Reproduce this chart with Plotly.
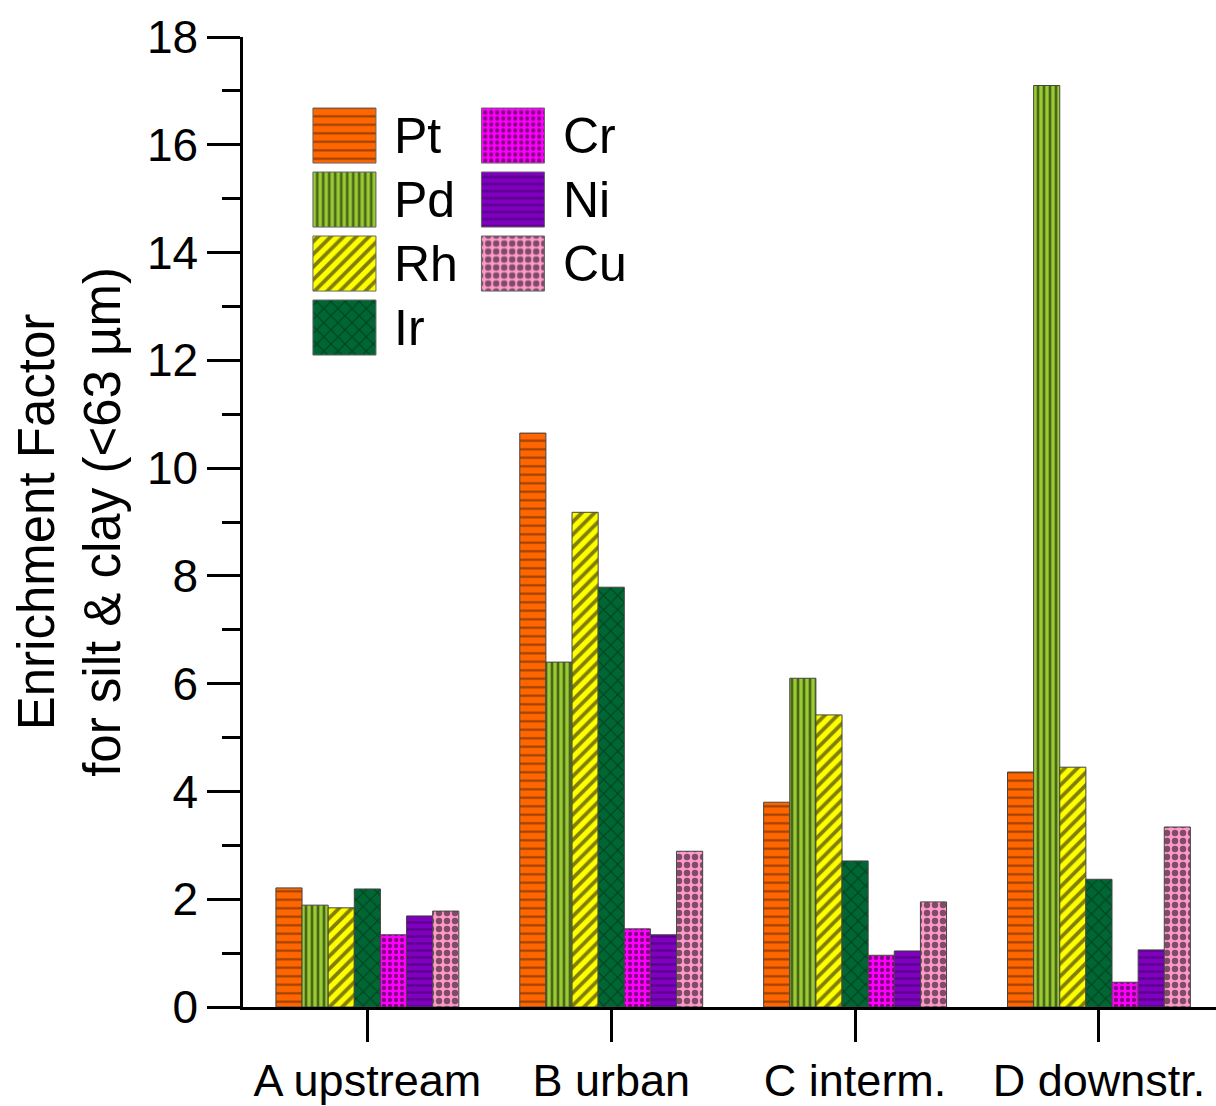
import plotly.graph_objects as go

# ---- data ----
sites = ["A upstream", "B urban", "C interm.", "D downstr."]
elements = ["Pt", "Pd", "Rh", "Ir", "Cr", "Ni", "Cu"]
pt = [2.21, 10.65, 3.80, 4.36]
pd_ = [1.89, 6.40, 6.10, 17.10]
rh = [1.84, 9.18, 5.42, 4.45]
ir = [2.19, 7.79, 2.71, 2.37]
cr = [1.34, 1.45, 0.96, 0.46]
ni = [1.69, 1.34, 1.04, 1.06]
cu = [1.78, 2.89, 1.95, 3.34]
values = [pt, pd_, rh, ir, cr, ni, cu]
y_ticks = list(range(0, 19, 2))

# ---- styles ----
colors = ["#FF6600", "#99CC33", "#FFFF00", "#006633", "#FF00FF", "#8000C0", "#FF99CC"]
shapes_ = ["-", "|", "/", "x", ".", "-", "."]
fgcols = ["#3a1a00", "#000000", "#000000", "#001a08", "#000000", "#3a0060", "#000000"]
psize = [8.5, 6, 9, 10, 6, 7, 8]
psolid = [0.25, 0.45, 0.42, 0.2, 0.4, 0.35, 0.5]
# legend grid: column, row for each element
leg_col = [0, 0, 0, 0, 1, 1, 1]
leg_row = [0, 1, 2, 3, 0, 1, 2]

FONT = "Liberation Sans, Arial, sans-serif"

fig = go.Figure()
for i, el in enumerate(elements):
    fig.add_trace(go.Bar(
        x=sites, y=values[i], name=el,
        marker=dict(color=colors[i],
                    line=dict(color="#444444", width=1),
                    pattern=dict(shape=shapes_[i], fgcolor=fgcols[i], bgcolor=colors[i],
                                 size=psize[i], solidity=psolid[i], fillmode="overlay")),
        showlegend=False,
    ))

# legend swatches as bars on a hidden auxiliary axis
sw_w = 0.374
sw_h = 0.86
for i, el in enumerate(elements):
    fig.add_trace(go.Bar(
        x=[leg_col[i]], y=[sw_h], base=[leg_row[i] - sw_h / 2],
        width=[sw_w], offset=[-sw_w / 2],
        xaxis="x2", yaxis="y2",
        marker=dict(color=colors[i],
                    line=dict(color="#666666", width=1),
                    pattern=dict(shape=shapes_[i], fgcolor=fgcols[i], bgcolor=colors[i],
                                 size=psize[i], solidity=psolid[i], fillmode="overlay")),
        showlegend=False, hoverinfo="skip",
    ))
    fig.add_annotation(x=leg_col[i] + 0.285, y=leg_row[i], xref="x2", yref="y2",
                       text=el, showarrow=False, xanchor="left", yanchor="middle",
                       font=dict(size=50, family=FONT, color="black"))

# y-axis title (two lines)
fig.add_annotation(x=-0.179, y=0.5, xref="paper", yref="paper",
                   text="Enrichment Factor<br>for silt &amp; clay (&lt;63 µm)",
                   textangle=-90, showarrow=False, xanchor="center", yanchor="middle",
                   font=dict(size=51, family=FONT, color="black"))

fig.update_layout(
    width=1216, height=1106,
    margin=dict(l=243, r=0, t=37, b=99),
    paper_bgcolor="white", plot_bgcolor="white",
    barmode="group", bargap=0.25, bargroupgap=0,
    showlegend=False,
    font=dict(family=FONT, color="black"),
    xaxis=dict(
        range=[-0.51, 3.48], showline=True, linecolor="black", linewidth=2.5,
        ticks="outside", ticklen=32, tickwidth=2.5, tickcolor="black",
        showgrid=False, zeroline=False, tickfont=dict(size=45, family=FONT),
    ),
    yaxis=dict(
        range=[0, 18], showline=True, linecolor="black", linewidth=2.5,
        tickvals=y_ticks, ticks="outside", ticklen=33, tickwidth=2.5, tickcolor="black",
        minor=dict(dtick=1, ticks="outside", ticklen=18, tickwidth=2.5, tickcolor="black"),
        showgrid=False, zeroline=False, tickfont=dict(size=46, family=FONT),
    ),
    xaxis2=dict(domain=[0.0177, 0.364], range=[-0.5, 1.5], anchor="y2", visible=False),
    yaxis2=dict(domain=[0.6675, 0.9314], range=[3.5, -0.5], anchor="x2", visible=False),
)

fig.write_html("out.html")
